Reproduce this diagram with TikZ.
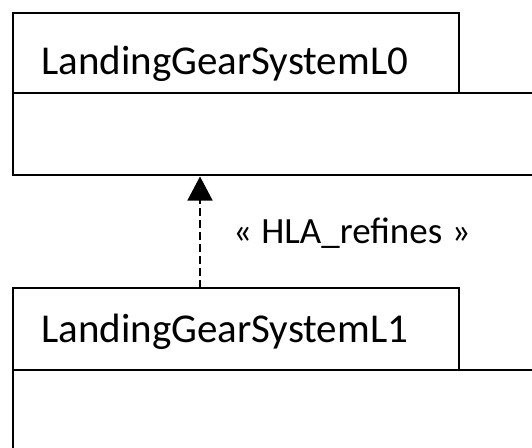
\documentclass[tikz,border=0pt]{standalone}
\usepackage{fontspec}
\setmainfont{Carlito}
\usetikzlibrary{arrows.meta,positioning}
\begin{document}
\begin{tikzpicture}[x=1pt,y=-1pt,
  boxline/.style={draw=black,line width=2pt},
  titletext/.style={anchor=base west,inner sep=0pt,font=\fontsize{41}{49}\selectfont},
  labeltext/.style={anchor=base west,inner sep=0pt,font=\fontsize{37}{44}\selectfont},
  refine/.style={line width=1.5pt,dash pattern=on 8pt off 4pt,-{Triangle[length=24pt,width=25pt]}}]
\useasboundingbox (0,0) rectangle (532,447);
\clip (0,0) rectangle (532,447);
% class L0
\path[boxline] (13,93) rectangle (620,175);
\path[boxline] (13,13) rectangle (459,93);
\node[titletext] (t0) at (41,74) {LandingGearSystemL0};
% class L1
\path[boxline] (13,370) rectangle (620,520);
\path[boxline] (13,288) rectangle (459,370);
\node[titletext] (t1) at (41,342.5) {LandingGearSystemL1};
% anchors for connector
\coordinate (l0bottom) at (200,175);
\coordinate (l1top) at (200,288);
\draw[refine,shorten >=1.5pt] (l1top) -- (l0bottom);
\node[labeltext] (lab) at (233,243) {«\hspace{0.25em}HLA\_refines\hspace{0.25em}»};
\end{tikzpicture}
\end{document}
